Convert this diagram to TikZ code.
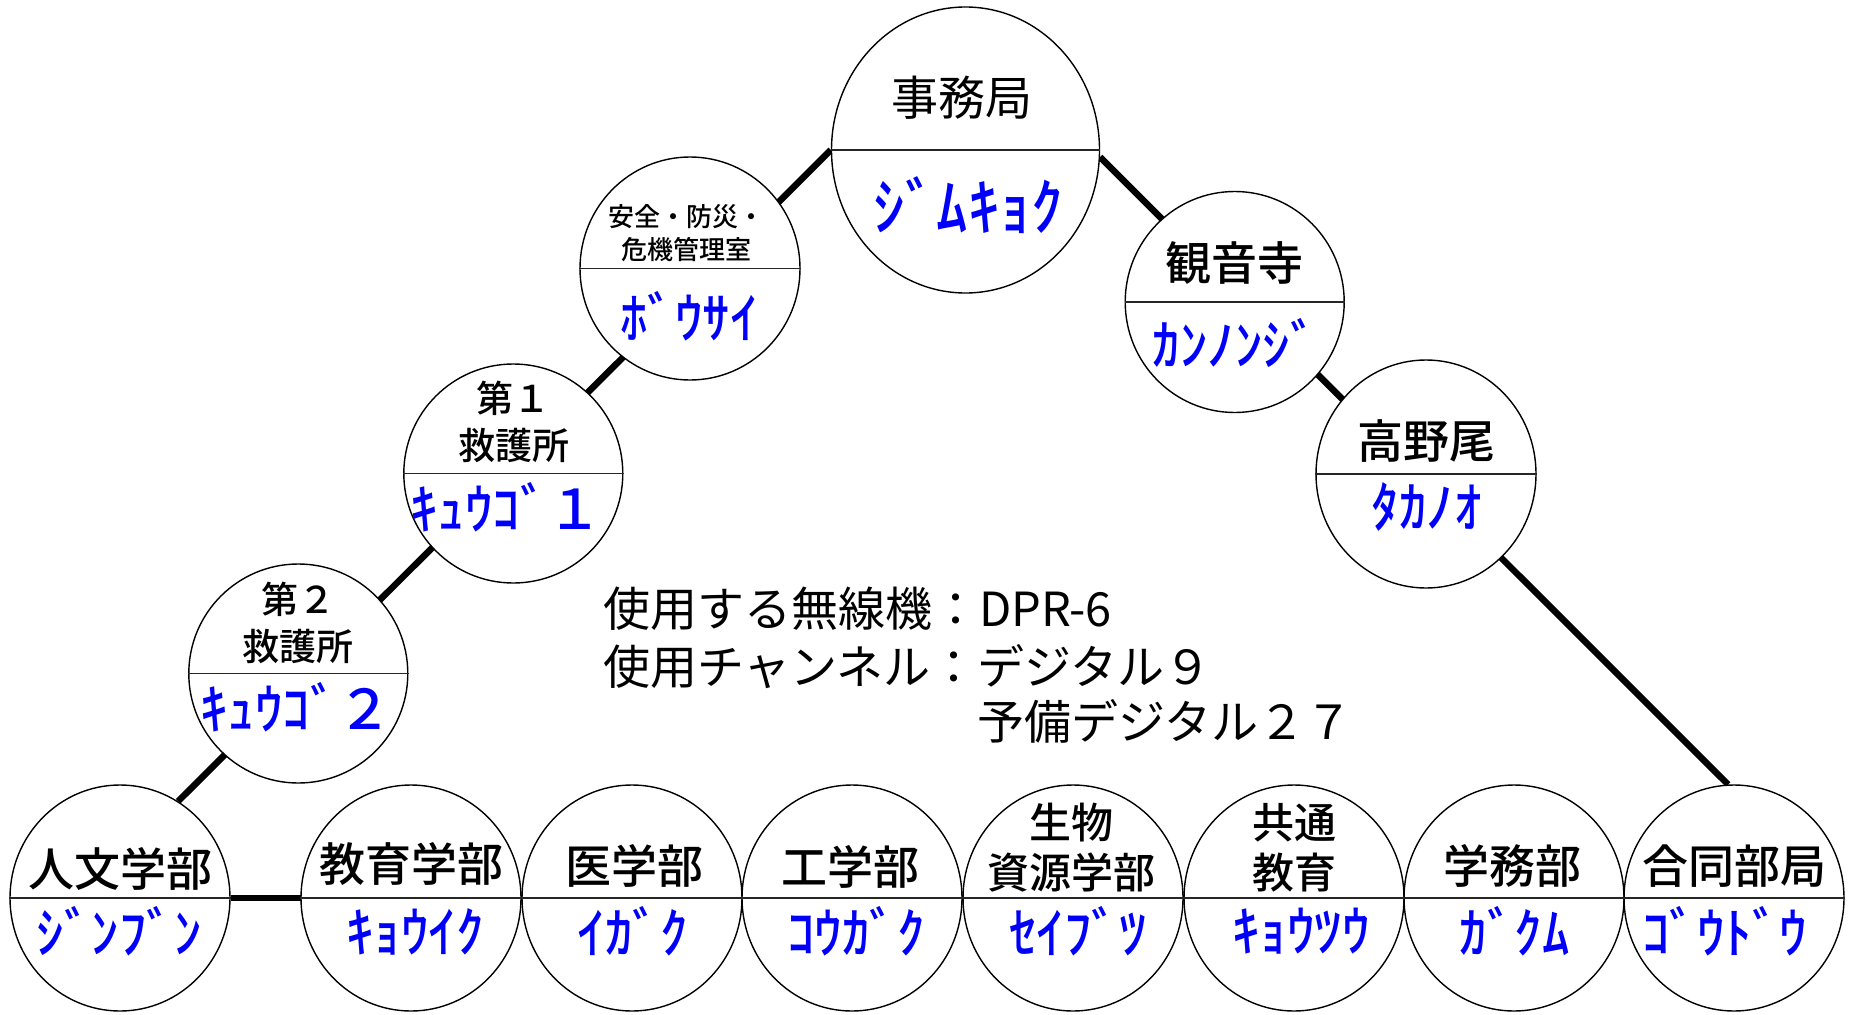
\documentclass[tikz,border=0pt]{standalone}
\usepackage{fontspec}
\setmainfont{Noto Sans CJK JP}
\newfontfamily\medfont{Noto Sans CJK JP Medium}
\usetikzlibrary{shapes.geometric,backgrounds}
\definecolor{kanablue}{RGB}{0,0,250}
\tikzset{
  unit/.style={ellipse, draw=black, line width=1.4pt, fill=white, inner sep=0pt,
               minimum width=220pt, minimum height=226pt},
  link/.style={line width=6.5pt, line cap=butt},
  divider/.style={line width=1.3pt, draw=black!85},
  lbl/.style={inner sep=0pt, align=center, text=black},
  kana/.style={inner sep=0pt, text=kanablue, font=\medfont\fontsize{55}{60}\selectfont},
  big/.style={font=\medfont\fontsize{46}{56}\selectfont},
  mid/.style={font=\medfont\fontsize{42}{50}\selectfont},
  info/.style={inner sep=0pt, anchor=west, font=\fontsize{47}{56}\selectfont},
}
\begin{document}
\begin{tikzpicture}[x=1pt,y=-1pt]
\useasboundingbox (0,0) rectangle (1851,1014);

% circles
\node[unit, minimum width=268pt, minimum height=286pt] (jimu) at (965.5,150) {};
\node[unit, minimum width=220pt, minimum height=223pt] (anzen) at (690,268.5) {};
\node[unit, minimum width=219pt, minimum height=219pt] (dai1) at (513.3,473.5) {};
\node[unit, minimum width=219pt, minimum height=219pt] (dai2) at (298.3,673.5) {};
\node[unit, minimum width=219pt, minimum height=221pt] (kannon) at (1234.7,302) {};
\node[unit, minimum width=220pt, minimum height=228pt] (takano) at (1426,474) {};
\node[unit] (jinbun) at (120,898) {};
\node[unit] (kyoiku) at (411,898) {};
\node[unit] (igaku) at (632,898) {};
\node[unit] (kogaku) at (852,898) {};
\node[unit] (seibutsu) at (1073,898) {};
\node[unit] (kyotsu) at (1294,898) {};
\node[unit] (gakumu) at (1514,898) {};
\node[unit] (godo) at (1734,898) {};

% connectors behind circles
\begin{scope}[on background layer]
  \fill[white] (0,0) rectangle (1851,1014);
  \draw[link] (jimu.west) -- (jinbun.59);
  \draw[link] (jimu.-3) -- (godo.93);
  \draw[link] (jinbun.east) -- (godo.west);
\end{scope}

% dividers
\foreach \n in {jimu,anzen,dai1,dai2,kannon,takano,jinbun,kyoiku,igaku,kogaku,seibutsu,kyotsu,gakumu,godo}
  \draw[divider] (\n.west) -- (\n.east);

% black labels
\node[lbl, font=\fontsize{47}{56}\selectfont] (jimuT) at (962,98) {事務局};
\node[lbl, font=\medfont\fontsize{26}{33}\selectfont] (anzenT) at (686,233) {安全・防災・\\危機管理室};
\node[lbl, font=\medfont\fontsize{37}{47}\selectfont] (dai1T) at (513.5,421.5) {第１\\救護所};
\node[lbl, font=\medfont\fontsize{37}{47}\selectfont] (dai2T) at (298,622.5) {第２\\救護所};
\node[lbl, big] (kannonT) at (1234,262.5) {観音寺};
\node[lbl, big] (takanoT) at (1426.5,440.8) {高野尾};
\node[lbl, big] (jinbunT) at (120,869) {人文学部};
\node[lbl, big] (kyoikuT) at (411,864) {教育学部};
\node[lbl, big] (igakuT) at (634,866) {医学部};
\node[lbl, big] (kogakuT) at (850,867) {工学部};
\node[lbl, mid] (seibutsuT) at (1071,848) {生物\\資源学部};
\node[lbl, mid] (kyotsuT) at (1294,848) {共通\\教育};
\node[lbl, big] (gakumuT) at (1512,866) {学務部};
\node[lbl, big] (godoT) at (1734,866) {合同部局};

% blue readings
\node[kana, font=\medfont\fontsize{63}{70}\selectfont] (jimuK) at (968,205) {ｼﾞﾑｷｮｸ};
\node[kana] (anzenK) at (689,316.7) {ﾎﾞｳｻｲ};
\node[kana] (dai1K) at (506.7,507.5) {ｷｭｳｺﾞ１};
\node[kana] (dai2K) at (296.7,707.5) {ｷｭｳｺﾞ２};
\node[kana] (kannonK) at (1235,343.3) {ｶﾝﾉﾝｼﾞ};
\node[kana] (takanoK) at (1426.7,506.7) {ﾀｶﾉｵ};
\node[kana] (jinbunK) at (119,931.5) {ｼﾞﾝﾌﾞﾝ};
\node[kana] (kyoikuK) at (415,931.5) {ｷｮｳｲｸ};
\node[kana] (igakuK) at (632.7,931.5) {ｲｶﾞｸ};
\node[kana] (kogakuK) at (856,931.5) {ｺｳｶﾞｸ};
\node[kana] (seibutsuK) at (1078,931.5) {ｾｲﾌﾞﾂ};
\node[kana] (kyotsuK) at (1301,931.5) {ｷｮｳﾂｳ};
\node[kana] (gakumuK) at (1514.6,931.5) {ｶﾞｸﾑ};
\node[kana] (godoK) at (1724.7,931.5) {ｺﾞｳﾄﾞｳ};

% radio info
\node[info] (info1) at (603,609) {使用する無線機：DPR-6};
\node[info] (info2) at (603,667) {使用チャンネル：デジタル９};
\node[info] (info3) at (603,722) {\phantom{使用チャンネル：}予備デジタル２７};
\end{tikzpicture}
\end{document}
